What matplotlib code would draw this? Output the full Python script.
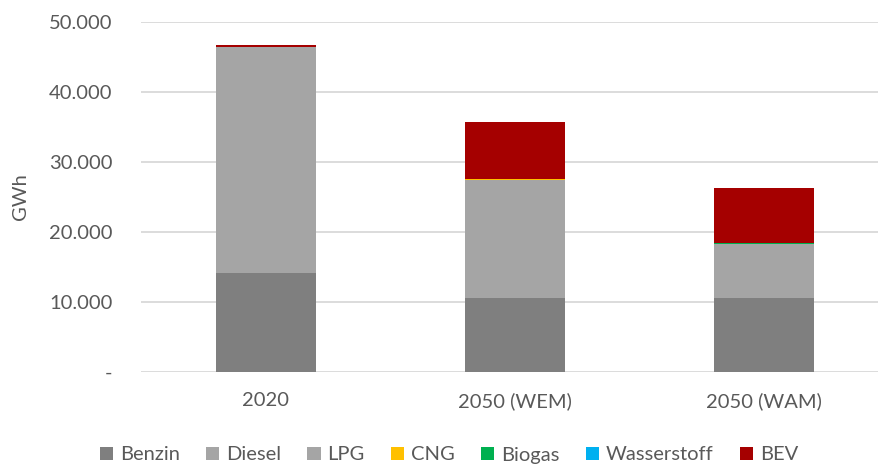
import matplotlib
matplotlib.use("Agg")
import matplotlib.pyplot as plt
from matplotlib.ticker import FuncFormatter
import numpy as np

plt.rcParams['font.family'] = ['Lato', 'DejaVu Sans']

# Energieverbrauch nach Antriebsart in GWh
szenarien = ["2020", "2050 (WEM)", "2050 (WAM)"]
benzin = [14070, 10450, 10450]
diesel = [32360, 16980, 7860]
lpg = [0, 0, 0]
cng = [0, 110, 0]
biogas = [0, 0, 110]
wasserstoff = [0, 0, 0]
bev = [220, 8190, 7900]

reihen = [
    ("Benzin", benzin, "#7f7f7f"),
    ("Diesel", diesel, "#a5a5a5"),
    ("LPG", lpg, "#a5a5a5"),
    ("CNG", cng, "#ffc000"),
    ("Biogas", biogas, "#00b050"),
    ("Wasserstoff", wasserstoff, "#00b0f0"),
    ("BEV", bev, "#a50000"),
]

textfarbe = "#595959"
fs = 14.5

W, H = 879, 466
fig = plt.figure(figsize=(W / 100, H / 100), dpi=100)
left, right, top, bottom = 141.5, 879, 22, 371.5
ax = fig.add_axes([left / W, (H - bottom) / H, (right - left) / W, (bottom - top) / H])

x = np.arange(len(szenarien))
basis = np.zeros(len(szenarien))
for name, werte, farbe in reihen:
    ax.bar(x, werte, 0.4, bottom=basis, color=farbe, label=name, zorder=3)
    basis += np.array(werte)

ax.set_ylim(0, 50000)
ax.set_xlim(-0.5, -0.5 + (right - left) / 249)
ax.set_yticks(np.arange(0, 50001, 10000))
ax.yaxis.set_major_formatter(FuncFormatter(
    lambda v, p: "-" if v == 0 else f"{int(v):,}".replace(",", ".")))
ax.set_xticks(x)
ax.set_xticklabels(szenarien)

ax.grid(axis="y", color="#d9d9d9", linewidth=1.3, zorder=0)
for s in ax.spines.values():
    s.set_visible(False)
ax.tick_params(length=0, labelsize=fs, colors=textfarbe)
ax.tick_params(axis="y", pad=21)
ax.tick_params(axis="x", pad=15)
ax.set_ylabel("GWh", fontsize=fs, color=textfarbe, labelpad=14)

ax.legend(loc="center", bbox_to_anchor=(449 / W, (H - 455) / H), bbox_transform=fig.transFigure,
          ncol=7, frameon=False, fontsize=fs, labelcolor=textfarbe,
          handlelength=0.65, handleheight=0.65, handletextpad=0.35, columnspacing=1.3)

fig.savefig("out.png", dpi=100)
